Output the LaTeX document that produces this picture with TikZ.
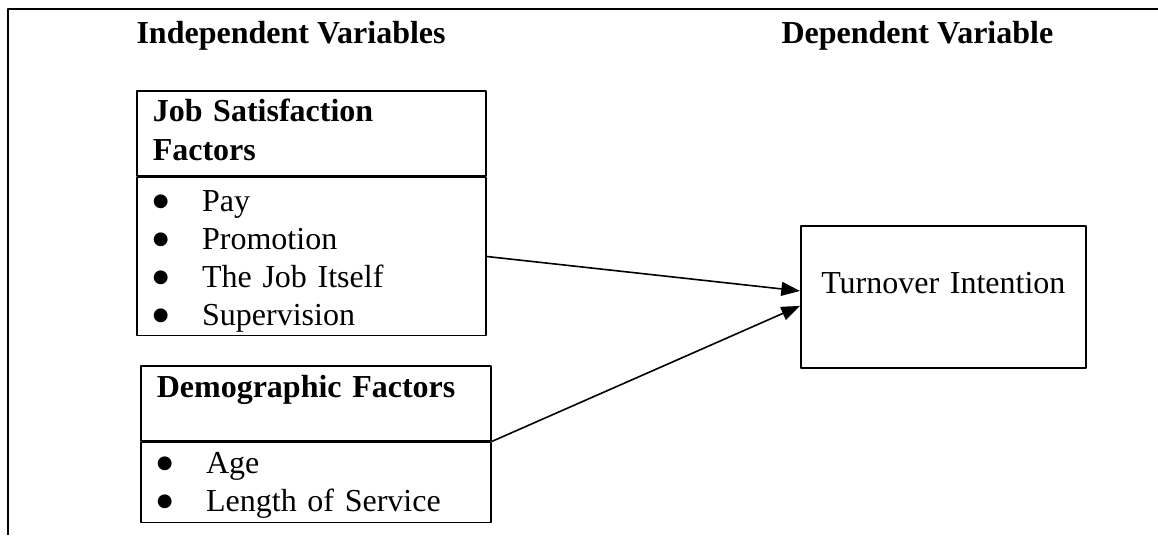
\documentclass[tikz,border=0pt]{standalone}
\usepackage{fontspec}
\setmainfont{Liberation Serif}
\newfontfamily\symfont{DejaVu Sans}
\usepackage{tikz}
\usetikzlibrary{arrows.meta}

% bullet followed by a fixed gap, as in the lists
\newcommand{\listbullet}{\makebox[18.5pt][l]{\raisebox{2pt}{\symfont\fontsize{6.8}{7}\selectfont ●}}}
% invisible struts to sit the text lower / higher in its box
\newcommand{\uprule}[1]{\rule{0pt}{#1}}
\newcommand{\downrule}[1]{\rule[-#1]{0pt}{0pt}}

\begin{document}
\begin{tikzpicture}[x=0.375pt, y=-0.375pt, line join=round,
    box/.style={draw, line width=0.6pt, anchor=north west, align=left,
                inner xsep=6pt, inner ysep=0pt,
                font=\fontsize{12}{14.3}\selectfont},
    headbox/.style={box, font=\fontsize{12}{14.8}\selectfont\bfseries},
    title/.style={anchor=base west, inner sep=0pt, font=\fontsize{12}{14}\selectfont\bfseries},
    link/.style={line width=0.6pt, -{Triangle[length=7pt,width=5.2pt]}}]

  \useasboundingbox (0,0) rectangle (1158,535);

% --- 1. THE FRAME AND COLUMN TITLES ---
  \draw[line width=0.7pt] (1158,9) -- (8,9) -- (8,535);
  \node[title] (indep) at (136,43) {Independent Variables};
  \node[title] (dep) at (781,43) {Dependent Variable};

% --- 2. INDEPENDENT VARIABLES ---
  % Job satisfaction: header and list
  \node[headbox, text width=118.9pt, minimum height=31.9pt] (jobhead) at (136,90)
    {Job Satisfaction\\Factors\downrule{2.6pt}};
  \node[box, text width=118.9pt, minimum height=59.25pt] (joblist) at (jobhead.south west)
    {\uprule{11.7pt}\listbullet Pay\\ \listbullet Promotion\\ \listbullet The Job Itself\\ \listbullet Supervision};

  % Demographic factors: header (with an empty line) and list
  \node[headbox, text width=119.25pt, minimum height=28.1pt] (demohead) at (140,365)
    {\uprule{10.5pt}Demographic Factors\\ \mbox{}};
  \node[box, text width=119.25pt, minimum height=30pt] (demolist) at (demohead.south west)
    {\uprule{10.4pt}\listbullet Age\\ \listbullet Length of Service};

% --- 3. DEPENDENT VARIABLE ---
  \node[box, align=center, text width=94.9pt, minimum height=53.25pt] (turn) at (800,225)
    {\uprule{11.7pt}Turnover Intention\\ \mbox{}};

  % The links
  \draw[link] (joblist.east) -- ([yshift=2.2pt]turn.west);
  \draw[link] (demohead.south east) -- ([yshift=-3.4pt]turn.west);

\end{tikzpicture}
\end{document}
